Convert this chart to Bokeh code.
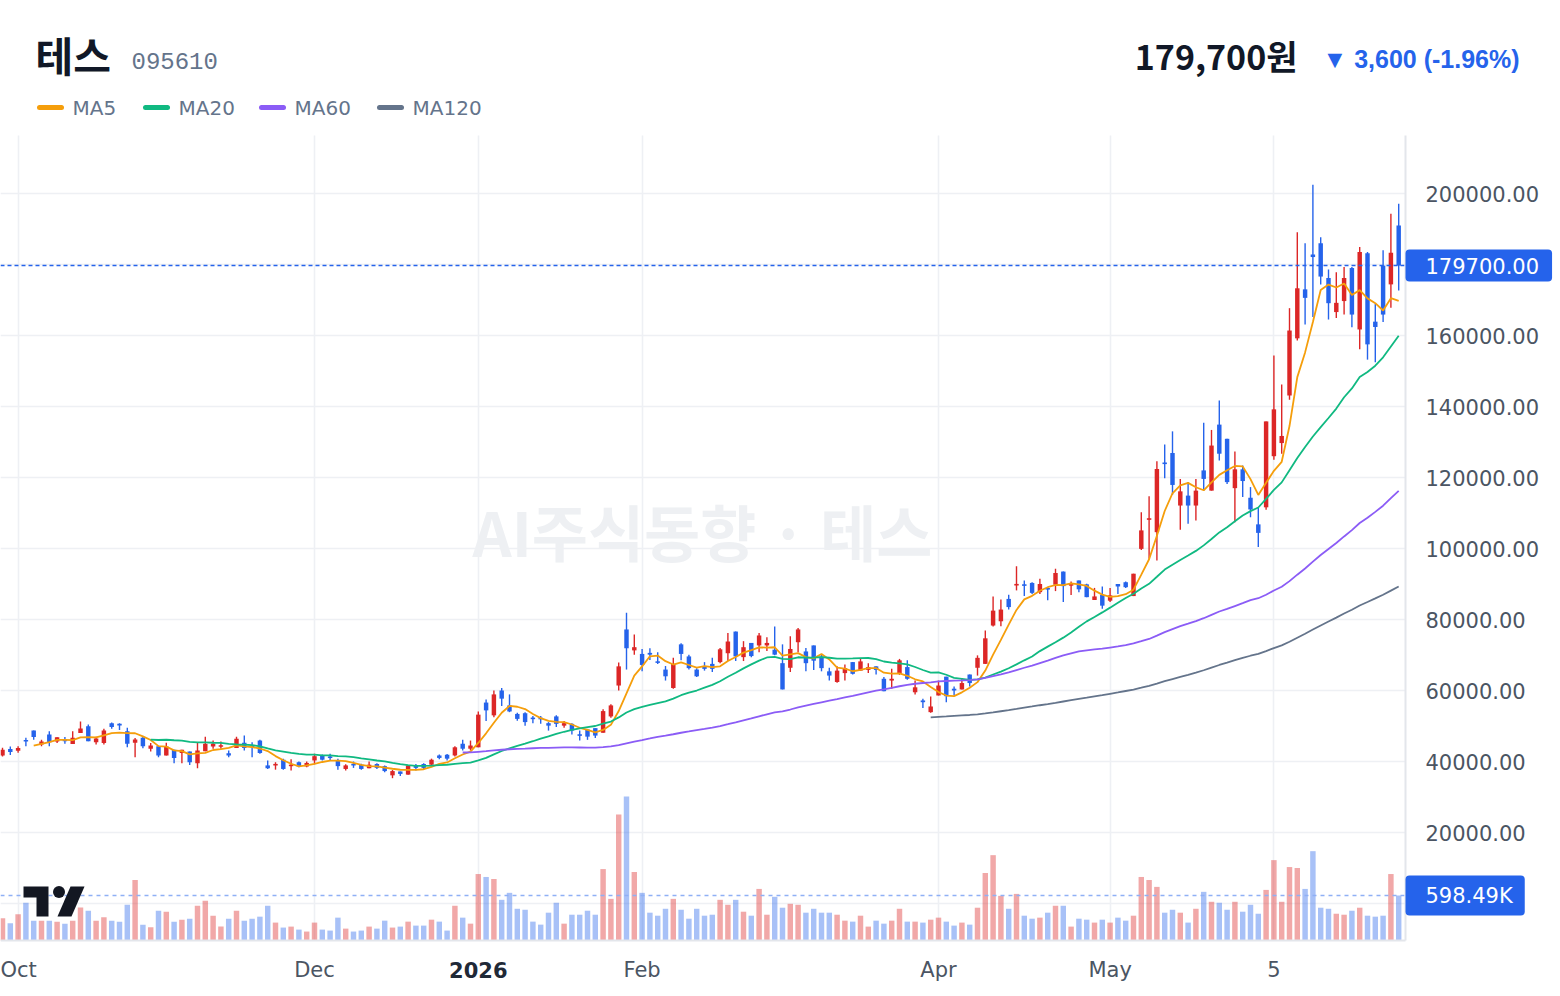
import numpy as np
import pandas as pd
from bokeh.plotting import figure
from bokeh.models import Range1d, FixedTicker, NumeralTickFormatter, Label, LinearAxis, Grid
from bokeh.embed import file_html
from bokeh.resources import INLINE

# ---------------- data ----------------
stock_name = "테스"
stock_code = "095610"
last_price_text = "179,700원"
change_text = "▼ 3,600 (-1.96%)"
watermark_text = "AI주식동향 · 테스"
last_price = 179700
last_price_tag = "179700.00"
last_volume = 598490
last_volume_tag = "598.49K"

tick_index = [2, 40, 61, 82, 120, 142, 163]
tick_labels = ["Oct", "Dec", "2026", "Feb", "Apr", "May", "5"]
price_ticks = list(range(0, 200001, 20000))

open_k = [41.7, 43.5, 43.0, 46.0, 48.7, 44.8, 47.6, 45.6, 46.3, 44.9,
          48.0, 49.9, 45.4, 45.2, 50.8, 50.6, 48.5, 45.3, 46.7, 43.6,
          44.3, 41.7, 43.3, 42.4, 42.8, 39.5, 42.9, 44.2, 44.2, 42.3,
          43.8, 45.3, 44.5, 45.9, 38.9, 38.9, 40.5, 38.7, 39.8, 38.6,
          40.3, 41.7, 41.4, 40.3, 37.9, 39.3, 39.1, 38.1, 39.3, 38.7,
          36.1, 37.2, 36.3, 38.9, 39.3, 39.1, 41.7, 41.9, 41.7, 45.0,
          43.6, 44.0, 56.6, 53.0, 60.0, 55.8, 53.4, 53.6, 52.3, 52.3,
          50.8, 52.7, 50.1, 50.6, 47.6, 49.0, 49.4, 48.1, 52.7, 61.4,
          77.2, 71.3, 70.3, 70.6, 68.2, 65.9, 60.7, 73.0, 69.6, 65.9,
          66.8, 67.5, 68.0, 70.5, 76.6, 69.4, 73.4, 72.7, 72.7, 71.5,
          67.7, 66.4, 73.6, 71.0, 72.7, 69.6, 65.4, 62.4, 64.9, 68.0,
          65.6, 65.8, 66.8, 63.3, 62.8, 64.7, 66.6, 59.5, 57.2, 53.9,
          58.6, 63.9, 60.5, 60.3, 64.5, 66.4, 67.5, 78.3, 79.5, 85.8,
          89.6, 89.9, 90.3, 87.7, 88.8, 89.8, 93.5, 89.6, 91.0, 89.9,
          85.5, 86.9, 85.3, 90.0, 90.5, 86.6, 99.9, 108.1, 104.6, 124.1,
          126.9, 112.1, 114.9, 112.1, 122.0, 116.3, 134.9, 130.9, 117.0, 122.3,
          114.3, 106.8, 111.6, 126.0, 129.7, 143.1, 159.2, 173.0, 182.8, 186.0,
          176.2, 166.6, 169.7, 179.0, 161.7, 183.2, 163.9, 179.7, 174.4, 191.0]

high_k = [43.9, 44.2, 44.3, 46.7, 48.7, 46.1, 48.5, 46.8, 46.9, 48.5,
          51.3, 50.4, 47.0, 49.2, 51.0, 50.8, 49.5, 46.6, 46.9, 45.2,
          44.3, 45.3, 43.3, 43.3, 42.8, 45.3, 47.0, 45.9, 45.6, 43.1,
          47.0, 47.3, 45.4, 46.1, 40.3, 39.8, 40.8, 40.6, 40.0, 40.0,
          42.2, 42.0, 42.2, 40.8, 39.2, 40.0, 39.4, 40.0, 39.5, 38.9,
          37.6, 37.2, 38.9, 39.3, 39.5, 40.8, 42.0, 42.1, 44.3, 46.1,
          45.9, 54.1, 57.5, 60.0, 60.7, 58.9, 53.7, 53.9, 52.8, 52.8,
          51.1, 53.0, 51.4, 50.8, 48.7, 49.2, 49.4, 54.7, 56.1, 67.9,
          81.9, 75.8, 71.7, 71.9, 70.8, 66.9, 69.2, 73.3, 70.1, 66.3,
          68.0, 69.2, 72.0, 76.2, 76.6, 73.9, 73.4, 76.2, 75.0, 78.0,
          73.0, 75.3, 77.6, 72.0, 72.7, 70.3, 66.4, 66.8, 67.3, 68.0,
          69.1, 67.7, 66.8, 63.8, 66.1, 68.9, 68.5, 62.8, 57.7, 58.3,
          62.8, 63.9, 61.1, 63.5, 64.5, 69.9, 76.9, 86.5, 85.6, 87.0,
          95.0, 91.0, 90.5, 91.5, 89.1, 94.3, 93.5, 90.7, 91.0, 90.1,
          88.9, 89.3, 88.9, 90.0, 90.7, 92.9, 110.2, 114.7, 124.6, 129.3,
          133.0, 119.6, 118.7, 119.6, 135.4, 133.4, 141.7, 130.9, 127.3, 123.4,
          117.3, 111.4, 135.8, 154.4, 146.2, 167.7, 189.1, 186.0, 202.5, 187.7,
          178.6, 177.8, 179.3, 179.3, 184.9, 183.5, 168.9, 184.0, 194.3, 197.1]

low_k = [41.4, 41.8, 42.5, 44.3, 46.1, 44.3, 44.3, 45.2, 45.0, 44.9,
         48.0, 45.7, 44.8, 44.8, 49.2, 48.9, 44.0, 41.2, 43.7, 42.8,
         41.2, 41.7, 39.5, 39.5, 39.0, 38.1, 42.9, 43.6, 43.6, 41.2,
         43.8, 43.1, 41.2, 42.2, 37.9, 37.7, 37.7, 37.5, 38.4, 38.4,
         39.2, 40.3, 40.3, 37.7, 37.5, 38.2, 37.7, 38.1, 37.9, 37.0,
         35.3, 35.9, 36.3, 37.5, 37.7, 38.9, 40.6, 40.3, 41.4, 43.1,
         43.1, 44.0, 51.4, 52.5, 55.6, 53.9, 51.5, 50.1, 50.8, 50.6,
         48.7, 49.7, 49.5, 47.6, 45.9, 46.1, 46.6, 48.1, 52.3, 60.0,
         65.9, 70.1, 65.4, 68.6, 67.5, 62.8, 60.5, 68.5, 65.9, 63.8,
         65.6, 65.2, 67.7, 68.3, 68.3, 68.3, 69.4, 70.8, 71.1, 69.9,
         60.3, 65.2, 70.8, 65.4, 65.8, 65.4, 62.8, 62.2, 62.8, 64.5,
         65.6, 64.9, 64.5, 59.8, 60.5, 64.4, 63.0, 58.9, 55.1, 53.7,
         58.6, 56.7, 58.6, 60.3, 61.1, 64.2, 67.5, 78.0, 78.1, 82.8,
         88.2, 86.6, 87.2, 87.2, 85.4, 88.0, 84.9, 86.9, 87.7, 86.3,
         85.5, 83.0, 84.9, 87.2, 88.9, 86.6, 99.6, 97.1, 96.6, 119.8,
         115.1, 105.3, 107.0, 107.9, 116.3, 116.3, 124.8, 118.2, 107.4, 114.5,
         108.8, 100.4, 110.9, 125.0, 126.7, 141.9, 158.6, 163.1, 165.2, 174.4,
         164.5, 164.9, 165.9, 162.3, 156.1, 153.2, 152.5, 163.8, 167.8, 172.7]

close_k = [43.3, 42.7, 43.8, 45.7, 46.9, 45.6, 45.4, 46.8, 45.7, 46.7,
           49.3, 45.7, 46.5, 48.7, 49.7, 50.2, 45.0, 46.2, 44.3, 44.5,
           41.7, 44.2, 41.0, 43.3, 39.8, 43.1, 45.0, 45.0, 44.5, 41.7,
           46.4, 43.8, 44.0, 42.4, 38.1, 39.3, 37.9, 39.1, 38.6, 39.6,
           41.5, 40.5, 41.0, 38.7, 38.9, 38.9, 37.9, 39.1, 38.2, 37.3,
           37.3, 36.5, 38.9, 38.2, 38.2, 40.5, 41.0, 40.8, 44.0, 43.6,
           44.5, 53.2, 54.4, 58.9, 57.7, 54.1, 52.0, 51.1, 52.0, 51.9,
           50.1, 50.6, 50.8, 48.7, 47.3, 47.0, 47.3, 54.2, 55.8, 66.8,
           71.9, 72.2, 67.2, 70.1, 67.8, 64.0, 67.5, 70.3, 66.3, 64.0,
           66.1, 66.1, 71.6, 73.8, 69.6, 72.2, 69.7, 75.5, 73.4, 70.1,
           60.3, 71.7, 77.2, 67.7, 68.4, 66.3, 64.2, 65.6, 66.3, 64.7,
           68.2, 66.6, 65.8, 59.8, 63.3, 68.5, 63.3, 60.9, 56.7, 55.5,
           61.4, 58.4, 60.0, 62.1, 62.1, 69.2, 74.7, 82.5, 82.8, 83.5,
           90.0, 89.5, 87.5, 90.0, 88.5, 93.1, 89.4, 89.9, 88.5, 86.3,
           86.5, 83.9, 86.8, 89.3, 89.1, 92.9, 105.1, 108.5, 122.4, 123.9,
           117.9, 116.1, 112.1, 116.3, 119.6, 129.0, 126.7, 118.7, 122.3, 119.0,
           111.0, 104.4, 135.8, 139.2, 131.7, 161.4, 173.3, 170.6, 182.1, 176.6,
           169.1, 169.2, 176.2, 165.9, 183.5, 157.5, 162.4, 165.9, 183.3, 179.7]

volume_k = [295, 229, 348, 502, 264, 264, 264, 251, 224, 264,
            440, 396, 264, 308, 264, 251, 475, 805, 211, 176,
            396, 383, 251, 277, 290, 462, 528, 330, 185, 290,
            396, 264, 290, 317, 462, 238, 172, 185, 145, 119,
            238, 145, 132, 304, 158, 119, 132, 185, 158, 264,
            172, 185, 251, 198, 198, 277, 251, 132, 462, 304,
            224, 884, 845, 818, 541, 634, 422, 409, 251, 211,
            370, 502, 224, 343, 343, 396, 343, 950, 554, 1676,
            1914, 911, 634, 370, 330, 422, 554, 409, 290, 422,
            330, 343, 541, 475, 541, 383, 330, 686, 343, 581,
            436, 488, 475, 370, 422, 370, 370, 343, 264, 251,
            330, 185, 264, 224, 264, 422, 251, 251, 238, 277,
            304, 251, 198, 238, 211, 436, 898, 1135, 594, 422,
            620, 330, 290, 304, 370, 462, 462, 185, 290, 277,
            238, 277, 238, 304, 264, 330, 845, 805, 713, 370,
            409, 370, 238, 422, 647, 515, 502, 409, 515, 383,
            475, 356, 673, 1069, 515, 977, 964, 686, 1188, 436,
            422, 356, 343, 396, 436, 330, 317, 330, 884, 598.49]

ma_windows = [5, 20, 60, 120]
ma_names = ["MA5", "MA20", "MA60", "MA120"]

# ---------------- styles / geometry ----------------
UP = "#dc2626"
DOWN = "#2563eb"
MA_COLORS = ["#f59e0b", "#10b981", "#8b5cf6", "#64748b"]
GRID = "#eef0f4"
AXIS_TXT = "#4b5563"
FONT = "DejaVu Sans"
KFONT = "Noto Sans CJK KR"

W, H = 1560, 996
PLOT_L, PLOT_R, PLOT_T, PLOT_B = 0, 1405, 135, 940   # chart pane in page pixels
BAR_PX = 7.8                                          # pixels per trading day
FIRST_BAR_PX = 2.0                                    # centre of first bar
PRICE_ZERO_PX = 903.0                                 # page y of price 0
PRICE_PER_PX = 160000 / 568.0
VOL_PER_PX = last_volume / 45.0

def X(px):
    return (px - FIRST_BAR_PX) / BAR_PX

def P(py):
    return (PRICE_ZERO_PX - py) * PRICE_PER_PX

def V(py):
    return (PLOT_B - py) * VOL_PER_PX

n = len(close_k)
idx = np.arange(n)
o = np.array(open_k) * 1000
h = np.array(high_k) * 1000
l = np.array(low_k) * 1000
c = np.array(close_k) * 1000
v = np.array(volume_k) * 1000
colors = np.where(c >= o, UP, DOWN)

p = figure(width=W, height=H, x_range=Range1d(X(0), X(W)), y_range=Range1d(P(H), P(0)),
           x_axis_location=None, y_axis_location=None, toolbar_location=None,
           output_backend="svg", min_border=0)
p.extra_y_ranges = {"vol": Range1d(V(H), V(0))}
p.outline_line_color = None
p.background_fill_color = "white"
p.border_fill_color = "white"
for g in list(p.grid):
    g.visible = False

# ---------------- axes & grid ----------------
yaxis = LinearAxis(ticker=FixedTicker(ticks=price_ticks),
                   formatter=NumeralTickFormatter(format="0.00"),
                   fixed_location=X(PLOT_R), bounds=(P(PLOT_B), P(PLOT_T)))
yaxis.major_label_text_font = FONT
yaxis.major_label_text_font_size = "21px"
yaxis.major_label_text_color = AXIS_TXT
yaxis.major_tick_line_color = None
yaxis.minor_tick_line_color = None
yaxis.major_tick_out = 0
yaxis.major_tick_in = 0
yaxis.major_label_standoff = 20
yaxis.axis_line_color = "#e3e6eb"
yaxis.axis_line_width = 2
p.add_layout(yaxis, "right")

xaxis = LinearAxis(ticker=FixedTicker(ticks=tick_index),
                   fixed_location=P(PLOT_B), bounds=(X(PLOT_L), X(PLOT_R)))
xaxis.major_label_overrides = {t: (lab if lab != "2026" else "") for t, lab in zip(tick_index, tick_labels)}
xaxis.major_label_text_font = FONT
xaxis.major_label_text_font_size = "21px"
xaxis.major_label_text_color = AXIS_TXT
xaxis.major_tick_line_color = None
xaxis.minor_tick_line_color = None
xaxis.major_tick_out = 0
xaxis.major_tick_in = 0
xaxis.major_label_standoff = 17
xaxis.axis_line_color = "#e3e6eb"
xaxis.axis_line_width = 2
p.add_layout(xaxis, "below")

ygrid = Grid(dimension=1, ticker=FixedTicker(ticks=price_ticks),
             cross_bounds=(X(PLOT_L), X(PLOT_R)),
             grid_line_color=GRID, grid_line_width=1.6, level="underlay")
xgrid = Grid(dimension=0, ticker=FixedTicker(ticks=tick_index),
             cross_bounds=(P(PLOT_B), P(PLOT_T)),
             grid_line_color=GRID, grid_line_width=1.6, level="underlay")
p.add_layout(ygrid)
p.add_layout(xgrid)

# ---------------- header ----------------
def header_text(px, py, txt, font, size, color, bold=False, align="left"):
    p.add_layout(Label(x=X(px), y=P(py), text=txt, text_font=font,
                       text_font_style="bold" if bold else "normal",
                       text_font_size=size, text_color=color,
                       text_align=align, text_baseline="middle"))

header_text(35, 53, stock_name, KFONT, "41px", "#111827", bold=True)
header_text(131, 60, stock_code, "Liberation Mono", "24px", "#64748b")
header_text(1297, 55, last_price_text, KFONT, "34px", "#111827", bold=True, align="right")
header_text(1322, 58, change_text, "Liberation Sans", "25px", DOWN, bold=True)

leg_px = [37, 143, 259, 377]
for lx, name, col in zip(leg_px, ma_names, MA_COLORS):
    p.segment(x0=[X(lx + 2)], y0=[P(107)], x1=[X(lx + 24)], y1=[P(107)], line_color=col,
              line_width=5, line_cap="round")
    header_text(lx + 35, 107, name, FONT, "20px", "#64748b")

# watermark
p.add_layout(Label(x=X(702), y=P(530), text=watermark_text, text_align="center",
                   text_baseline="middle", text_font=KFONT, text_font_style="bold",
                   text_font_size="61px", text_color="#eef0f3", level="underlay"))

# ---------------- volume ----------------
p.vbar(x=idx, top=v, bottom=0, width=0.7, fill_color=colors, line_color=None,
       fill_alpha=0.4, y_range_name="vol")
p.segment(x0=[X(PLOT_L)], y0=[last_volume], x1=[X(PLOT_R)], y1=[last_volume],
          line_color="#8fb0f5", line_dash="4 4", line_width=1.5, y_range_name="vol")

# ---------------- candles ----------------
body_top = np.maximum(o, c)
body_bot = np.minimum(o, c)
mid = (body_top + body_bot) / 2
small = (body_top - body_bot) < 1.6 * PRICE_PER_PX
body_top = np.where(small, mid + 0.8 * PRICE_PER_PX, body_top)
body_bot = np.where(small, mid - 0.8 * PRICE_PER_PX, body_bot)
p.segment(x0=idx, y0=l, x1=idx, y1=h, line_color=colors, line_width=1.4)
p.vbar(x=idx, top=body_top, bottom=body_bot, width=0.57, fill_color=colors, line_color=None)

# ---------------- moving averages ----------------
cs = pd.Series(c)
for wdw, col in zip(ma_windows, MA_COLORS):
    ma = cs.rolling(wdw).mean().to_numpy()
    p.line(idx, ma, line_color=col, line_width=1.8)

# ---------------- last price line & tags ----------------
p.segment(x0=[X(PLOT_L)], y0=[last_price], x1=[X(PLOT_R)], y1=[last_price],
          line_color=DOWN, line_dash="4 3", line_width=1.4)
p.add_layout(Label(x=X(PLOT_R), y=last_price, text=last_price_tag,
                   text_color="white", text_font=FONT, text_font_size="21px",
                   text_baseline="middle", text_align="left", background_fill_color=DOWN,
                   padding=dict(left=20, right=13, top=8, bottom=8), border_radius=4))
p.add_layout(Label(x=X(PLOT_R), y=last_volume, y_range_name="vol", text=last_volume_tag,
                   text_color="white", text_font=FONT, text_font_size="21px",
                   text_baseline="middle", text_align="left", background_fill_color=DOWN,
                   padding=dict(left=20, right=12, top=8, bottom=8), border_radius=4))
p.add_layout(Label(x=tick_index[2], y=P(969), text="2026",
                   text_font=FONT, text_font_style="bold", text_font_size="21px",
                   text_color="#1f2937", text_align="center", text_baseline="middle"))

# ---------------- logo (decoration) ----------------
p.patch([X(q) for q in [23, 48, 48, 36, 36, 23]],
        [P(q) for q in [886, 886, 916, 916, 897, 897]], fill_color="#131722", line_color=None)
p.scatter([X(58.5)], [P(891.5)], size=12, fill_color="#131722", line_color=None)
p.patch([X(q) for q in [70, 84, 71, 57]],
        [P(q) for q in [886, 886, 916, 916]], fill_color="#131722", line_color=None)

open("out.html", "w").write(file_html(p, INLINE))
